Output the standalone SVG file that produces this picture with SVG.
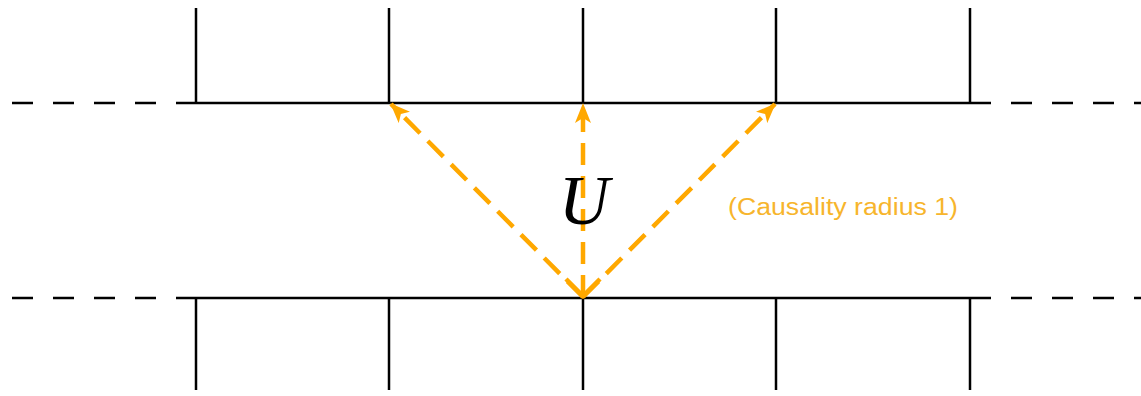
<svg xmlns="http://www.w3.org/2000/svg" width="1141" height="396" viewBox="0 0 1141 396">
<defs>
<style>
.ln{stroke:#000;stroke-width:2.5;fill:none}
.dl{stroke:#000;stroke-width:2.5;fill:none;stroke-dasharray:21 20}
.ar{stroke:#FFA800;stroke-width:4.5;fill:none;stroke-dasharray:22 11}
.lbl{font-family:"Liberation Sans",Arial,sans-serif;fill:#F7B52C;font-size:23px}
</style>
<marker id="tip" viewBox="0 0 20 16" refX="19" refY="8" markerWidth="20" markerHeight="16" markerUnits="userSpaceOnUse" orient="auto">
<path d="M0,0 L20,8 L0,16 L5,8 Z" fill="#FFA800"/>
</marker>
</defs>
<rect width="1141" height="396" fill="#fff"/>
<g id="top-row">
<line class="dl" x1="12" y1="103" x2="176" y2="103"/>
<line class="ln" x1="176" y1="103" x2="991" y2="103"/>
<line class="dl" x1="1011" y1="103" x2="1141" y2="103"/>
<line class="ln" x1="196" y1="8" x2="196" y2="103"/>
<line class="ln" x1="389" y1="8" x2="389" y2="103"/>
<line class="ln" x1="583" y1="8" x2="583" y2="103"/>
<line class="ln" x1="776" y1="8" x2="776" y2="103"/>
<line class="ln" x1="970" y1="8" x2="970" y2="103"/>
</g>
<g id="bottom-row">
<line class="dl" x1="12" y1="298" x2="176" y2="298"/>
<line class="ln" x1="176" y1="298" x2="991" y2="298"/>
<line class="dl" x1="1011" y1="298" x2="1141" y2="298"/>
<line class="ln" x1="196" y1="298" x2="196" y2="390"/>
<line class="ln" x1="389" y1="298" x2="389" y2="390"/>
<line class="ln" x1="583" y1="298" x2="583" y2="390"/>
<line class="ln" x1="776" y1="298" x2="776" y2="390"/>
<line class="ln" x1="970" y1="298" x2="970" y2="390"/>
</g>
<g id="connectors">
<line class="ar" x1="583" y1="297" x2="391" y2="104" marker-end="url(#tip)"/>
<line class="ar" x1="583" y1="297" x2="583" y2="104" marker-end="url(#tip)"/>
<line class="ar" x1="583" y1="297" x2="775" y2="104" marker-end="url(#tip)"/>
<path d="M566,279 L583,296 L600,279" stroke="#FFA800" stroke-width="4.5" fill="none"/>
</g>
<g id="U">
<text x="584" y="224" text-anchor="middle" font-family="Liberation Serif,'Times New Roman',serif" font-style="italic" font-size="70" fill="#000">U</text>
</g>
<g id="label">
<text class="lbl" x="728" y="215" textLength="230" lengthAdjust="spacingAndGlyphs">(Causality radius 1)</text>
</g>
</svg>
